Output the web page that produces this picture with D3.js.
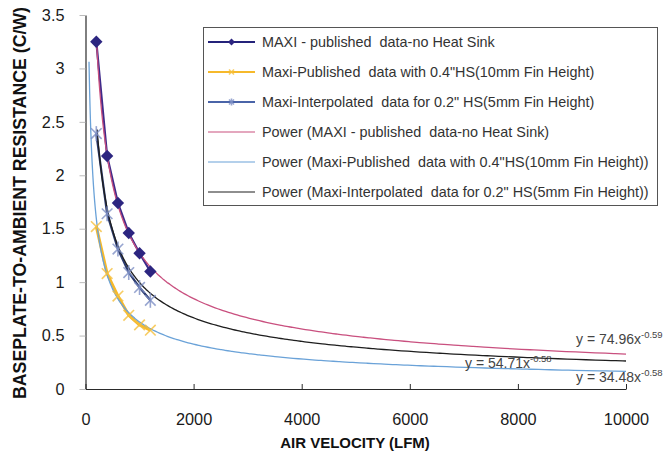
<!DOCTYPE html>
<html>
<head>
<meta charset="utf-8">
<script src="https://cdn.jsdelivr.net/npm/d3@7"></script>
<style>
  body { margin: 0; background: #fff; }
  text { font-family: Arial, "Liberation Sans", sans-serif; }
</style>
</head>
<body>
<svg id="chart" width="665" height="453"></svg>
<script>
////////////////////////////////////////////////////////////////////////////////
// Data
var velocities = [200, 400, 600, 800, 1000, 1200]
var maxiNoSink = [3.25, 2.18, 1.74, 1.46, 1.27, 1.10]
var maxi04Sink = [1.52, 1.08, 0.87, 0.69, 0.60, 0.55]
var maxi02Sink = [2.39, 1.64, 1.31, 1.09, 0.95, 0.83]

// power trendlines y = a * x^b, as printed on the chart
var trendCoef = [74.96, 34.48, 54.71]
var trendExp = [-0.59, -0.58, -0.58]
var trendStart = [200, 65, 215]
var trendEnd = 10000
var trendLabels = ["y = 74.96x", "y = 34.48x", "y = 54.71x"]
var trendExpLabels = ["-0.59", "-0.58", "-0.58"]

var xTicks = [0, 2000, 4000, 6000, 8000, 10000]
var yTicks = [0, 0.5, 1, 1.5, 2, 2.5, 3, 3.5]

var legendLabels = [
  "MAXI - published  data-no Heat Sink",
  "Maxi-Published  data with 0.4\"HS(10mm Fin Height)",
  "Maxi-Interpolated  data for 0.2\" HS(5mm Fin Height)",
  "Power (MAXI - published  data-no Heat Sink)",
  "Power (Maxi-Published  data with 0.4\"HS(10mm Fin Height))",
  "Power (Maxi-Interpolated  data for 0.2\" HS(5mm Fin Height))"
]

////////////////////////////////////////////////////////////////////////////////
// Styles
var seriesColor = ["#3f2a8a", "#f6b92b", "#2b3a6e"]
var markerColor = ["#2c2580", "#f5bf3c", "#7d8fc4"]
var trendColor = ["#c9507f", "#6aa2d8", "#1e1e1e"]
var markerKind = ["diamond", "cross", "star"]

var svg = d3.select("#chart")
var x = d3.scaleLinear().domain([0, 10000]).range([85.5, 626])
var y = d3.scaleLinear().domain([0, 3.5]).range([389, 15])

// axes
var xAxis = svg.append("g").attr("transform", "translate(0," + y(0) + ")")
  .call(d3.axisBottom(x).tickValues(xTicks).tickSize(-5).tickSizeOuter(0).tickPadding(24)
    .tickFormat(d3.format("")))
var yAxis = svg.append("g").attr("transform", "translate(" + x(0) + ",0)")
  .call(d3.axisLeft(y).tickValues(yTicks).tickSize(6).tickSizeOuter(0).tickPadding(15)
    .tickFormat(d3.format("")))
;[xAxis, yAxis].forEach(function(a) {
  a.select(".domain").attr("stroke", "#2a2a2a").attr("stroke-width", 1.2)
  a.selectAll(".tick line").attr("stroke", "#2a2a2a")
  a.selectAll(".tick text").attr("font-size", 16.3).attr("fill", "#1a1a1a")
})
yAxis.selectAll(".tick line").attr("stroke", "#bbb")

svg.append("text").attr("x", 355).attr("y", 448).attr("text-anchor", "middle")
  .attr("font-size", 15).attr("font-weight", "bold").attr("fill", "#111")
  .text("AIR VELOCITY (LFM)")
svg.append("text").attr("transform", "translate(26,203) rotate(-90)")
  .attr("text-anchor", "middle").attr("font-size", 17.5).attr("font-weight", "bold")
  .attr("textLength", 392).attr("lengthAdjust", "spacingAndGlyphs")
  .attr("fill", "#111").text("BASEPLATE-TO-AMBIENT RESISTANCE (C/W)")

////////////////////////////////////////////////////////////////////////////////
// Series lines
var series = [maxiNoSink, maxi04Sink, maxi02Sink]
var line = d3.line().x(d => x(d[0])).y(d => y(d[1]))
series.forEach(function(vals, i) {
  svg.append("path")
    .datum(velocities.map((v, j) => [v, vals[j]]))
    .attr("d", line)
    .attr("fill", "none")
    .attr("stroke", seriesColor[i])
    .attr("stroke-width", i == 1 ? 3 : 2.2)
})

// trendlines
var curve = d3.line().x(d => x(d[0])).y(d => y(d[1])).curve(d3.curveMonotoneX)
trendCoef.forEach(function(a, i) {
  var pts = []
  var lo = Math.log(trendStart[i]), hi = Math.log(trendEnd)
  for (var k = 0; k <= 200; k++) {
    var v = Math.exp(lo + (hi - lo) * k / 200)
    pts.push([v, a * Math.pow(v, trendExp[i])])
  }
  svg.append("path").datum(pts).attr("d", curve)
    .attr("fill", "none").attr("stroke", trendColor[i]).attr("stroke-width", 1.3)
})

// markers
function drawMarker(g, kind, color, r) {
  if (kind == "diamond") {
    g.append("path").attr("d", d3.symbol(d3.symbolSquare, r * r * 2)())
      .attr("transform", "rotate(45)").attr("fill", color)
  } else {
    var angles = kind == "cross" ? [45, 135] : [45, 135, 90]
    angles.forEach(function(ang) {
      var t = ang * Math.PI / 180
      g.append("line")
        .attr("x1", -r * Math.cos(t)).attr("y1", -r * Math.sin(t))
        .attr("x2", r * Math.cos(t)).attr("y2", r * Math.sin(t))
        .attr("stroke", color).attr("stroke-width", 1.6).attr("stroke-opacity", 0.8)
    })
  }
}
series.forEach(function(vals, i) {
  velocities.forEach(function(v, j) {
    var g = svg.append("g").attr("transform", "translate(" + x(v) + "," + y(vals[j]) + ")")
    drawMarker(g, markerKind[i], markerColor[i], i == 0 ? 6.2 : 7.5)
  })
})

// equation labels
var eqPos = [[576, 344], [576, 382], [465, 368]]
trendLabels.forEach(function(t, i) {
  var txt = svg.append("text").attr("x", eqPos[i][0]).attr("y", eqPos[i][1])
    .attr("font-size", 14).attr("fill", "#444")
  txt.append("tspan").text(t)
  txt.append("tspan").attr("dy", -6).attr("font-size", 9.5).text(trendExpLabels[i])
})

////////////////////////////////////////////////////////////////////////////////
// Legend
var legend = svg.append("g")
legend.append("rect").attr("x", 203.5).attr("y", 27.5).attr("width", 454).attr("height", 178)
  .attr("fill", "#fff").attr("stroke", "#555").attr("stroke-width", 1)
var legendColor = ["#24237a", "#f6b92b", "#4a64a8"].concat(trendColor)
legendLabels.forEach(function(lbl, i) {
  var ly = 42 + i * 30
  legend.append("line").attr("x1", 208).attr("x2", 255).attr("y1", ly).attr("y2", ly)
    .attr("stroke", legendColor[i]).attr("stroke-width", i < 3 ? 2 : 1.2)
  if (i < 3) {
    var g = legend.append("g").attr("transform", "translate(231.5," + ly + ")")
    drawMarker(g, markerKind[i], markerColor[i], 3.5)
  }
  legend.append("text").attr("x", 262).attr("y", ly + 5)
    .attr("font-size", 14.4).attr("fill", "#333").style("white-space", "pre")
    .text(lbl)
})
</script>
</body>
</html>
